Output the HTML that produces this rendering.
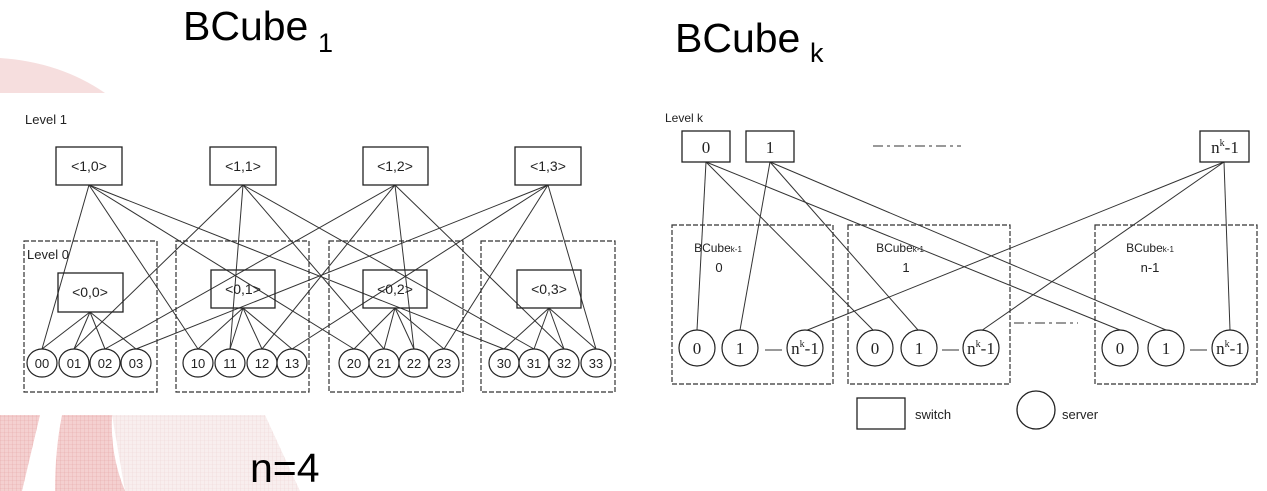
<!DOCTYPE html>
<html><head><meta charset="utf-8"><style>
html,body{margin:0;padding:0;background:#fff;}
svg{display:block;font-family:"Liberation Sans",Arial,sans-serif;}
</style></head><body>
<svg width="1267" height="491" viewBox="0 0 1267 491" xmlns="http://www.w3.org/2000/svg">
<defs>
<pattern id="g1" width="4" height="4" patternUnits="userSpaceOnUse"><rect width="4" height="4" fill="#f4d0d0"/><path d="M0 0H4M0 0V4" stroke="#e6a6a6" stroke-width="0.6"/></pattern>
<pattern id="g2" width="4" height="4" patternUnits="userSpaceOnUse"><rect width="4" height="4" fill="#f8eeee"/><path d="M0 0H4M0 0V4" stroke="#eed6d6" stroke-width="0.6"/></pattern>
</defs>
<!-- background decorations -->
<path d="M0,58 Q60,62 105,93 L0,93 Z" fill="#f6dede"/>
<path d="M0,415 L40,415 L22,491 L0,491 Z" fill="url(#g1)"/>
<path d="M112,415 L265,415 L300,491 L125,491 Z" fill="url(#g2)"/>
<path d="M62,415 L112,415 Q110,455 125,491 L55,491 Q55,450 62,415 Z" fill="url(#g1)"/>

<!-- titles -->
<text x="183" y="40" font-size="41" fill="#000">BCube</text>
<text x="318" y="52" font-size="27" fill="#000">1</text>
<text x="675" y="52" font-size="41" fill="#000">BCube</text>
<text x="810" y="62" font-size="27" fill="#000">k</text>
<text x="250" y="482" font-size="41" fill="#000">n=4</text>

<!-- LEFT DIAGRAM -->
<g stroke="#333" stroke-width="1" fill="none">
<!-- level1 switch to servers -->
<line x1="89" y1="185" x2="42" y2="349"/><line x1="89" y1="185" x2="198" y2="349"/><line x1="89" y1="185" x2="354" y2="349"/><line x1="89" y1="185" x2="504" y2="349"/>
<line x1="243" y1="185" x2="74" y2="349"/><line x1="243" y1="185" x2="230" y2="349"/><line x1="243" y1="185" x2="384" y2="349"/><line x1="243" y1="185" x2="534" y2="349"/>
<line x1="395" y1="185" x2="105" y2="349"/><line x1="395" y1="185" x2="262" y2="349"/><line x1="395" y1="185" x2="414" y2="349"/><line x1="395" y1="185" x2="564" y2="349"/>
<line x1="548" y1="185" x2="136" y2="349"/><line x1="548" y1="185" x2="292" y2="349"/><line x1="548" y1="185" x2="444" y2="349"/><line x1="548" y1="185" x2="596" y2="349"/>
<!-- level0 -->
<line x1="90" y1="312" x2="42" y2="349"/><line x1="90" y1="312" x2="74" y2="349"/><line x1="90" y1="312" x2="105" y2="349"/><line x1="90" y1="312" x2="136" y2="349"/>
<line x1="243" y1="308" x2="198" y2="349"/><line x1="243" y1="308" x2="230" y2="349"/><line x1="243" y1="308" x2="262" y2="349"/><line x1="243" y1="308" x2="292" y2="349"/>
<line x1="395" y1="308" x2="354" y2="349"/><line x1="395" y1="308" x2="384" y2="349"/><line x1="395" y1="308" x2="414" y2="349"/><line x1="395" y1="308" x2="444" y2="349"/>
<line x1="549" y1="308" x2="504" y2="349"/><line x1="549" y1="308" x2="534" y2="349"/><line x1="549" y1="308" x2="564" y2="349"/><line x1="549" y1="308" x2="596" y2="349"/>
</g>
<g stroke="#333" stroke-width="1.2" fill="none" stroke-dasharray="5,2">
<rect x="24" y="241" width="133" height="151"/>
<rect x="176" y="241" width="133" height="151"/>
<rect x="329" y="241" width="134" height="151"/>
<rect x="481" y="241" width="134" height="151"/>
</g>
<g stroke="#222" stroke-width="1.3" fill="none">
<rect x="56" y="147" width="66" height="38"/>
<rect x="210" y="147" width="66" height="38"/>
<rect x="363" y="147" width="65" height="38"/>
<rect x="515" y="147" width="66" height="38"/>
<rect x="58" y="273" width="65" height="39"/>
<rect x="211" y="270" width="64" height="38"/>
<rect x="363" y="270" width="64" height="38"/>
<rect x="517" y="270" width="64" height="38"/>
</g>
<g font-size="14" fill="#222" text-anchor="middle">
<text x="89" y="171">&lt;1,0&gt;</text><text x="243" y="171">&lt;1,1&gt;</text><text x="395" y="171">&lt;1,2&gt;</text><text x="548" y="171">&lt;1,3&gt;</text>
<text x="90" y="297">&lt;0,0&gt;</text><text x="243" y="294">&lt;0,1&gt;</text><text x="395" y="294">&lt;0,2&gt;</text><text x="549" y="294">&lt;0,3&gt;</text>
</g>
<g font-size="13" fill="#222">
<text x="25" y="124">Level 1</text>
<text x="27" y="259">Level 0</text>
</g>
<g stroke="#222" stroke-width="1.2" fill="#fff">
<ellipse cx="42" cy="363" rx="15" ry="14"/><ellipse cx="74" cy="363" rx="15" ry="14"/><ellipse cx="105" cy="363" rx="15" ry="14"/><ellipse cx="136" cy="363" rx="15" ry="14"/>
<ellipse cx="198" cy="363" rx="15" ry="14"/><ellipse cx="230" cy="363" rx="15" ry="14"/><ellipse cx="262" cy="363" rx="15" ry="14"/><ellipse cx="292" cy="363" rx="15" ry="14"/>
<ellipse cx="354" cy="363" rx="15" ry="14"/><ellipse cx="384" cy="363" rx="15" ry="14"/><ellipse cx="414" cy="363" rx="15" ry="14"/><ellipse cx="444" cy="363" rx="15" ry="14"/>
<ellipse cx="504" cy="363" rx="15" ry="14"/><ellipse cx="534" cy="363" rx="15" ry="14"/><ellipse cx="564" cy="363" rx="15" ry="14"/><ellipse cx="596" cy="363" rx="15" ry="14"/>
</g>
<g font-size="13" fill="#222" text-anchor="middle">
<text x="42" y="368">00</text><text x="74" y="368">01</text><text x="105" y="368">02</text><text x="136" y="368">03</text>
<text x="198" y="368">10</text><text x="230" y="368">11</text><text x="262" y="368">12</text><text x="292" y="368">13</text>
<text x="354" y="368">20</text><text x="384" y="368">21</text><text x="414" y="368">22</text><text x="444" y="368">23</text>
<text x="504" y="368">30</text><text x="534" y="368">31</text><text x="564" y="368">32</text><text x="596" y="368">33</text>
</g>

<!-- RIGHT DIAGRAM -->
<text x="665" y="122" font-size="12" fill="#222">Level k</text>
<g stroke="#333" stroke-width="1" fill="none">
<line x1="706" y1="162" x2="697" y2="330"/><line x1="706" y1="162" x2="873" y2="330"/><line x1="706" y1="162" x2="1120" y2="330"/>
<line x1="770" y1="162" x2="740" y2="330"/><line x1="770" y1="162" x2="918" y2="330"/><line x1="770" y1="162" x2="1166" y2="330"/>
<line x1="1224" y1="162" x2="805" y2="331"/><line x1="1224" y1="162" x2="981" y2="331"/><line x1="1224" y1="162" x2="1230" y2="330"/>
<line x1="873" y1="146" x2="961" y2="146" stroke-dasharray="10,4,3,4"/>
<line x1="1014" y1="323" x2="1078" y2="323" stroke-dasharray="10,4,3,4"/>
<line x1="765" y1="350" x2="782" y2="350"/><line x1="942" y1="350" x2="959" y2="350"/><line x1="1190" y1="350" x2="1207" y2="350"/>
</g>
<g stroke="#333" stroke-width="1.2" fill="none" stroke-dasharray="5,2">
<rect x="672" y="225" width="161" height="159"/>
<rect x="848" y="225" width="162" height="159"/>
<rect x="1095" y="225" width="162" height="159"/>
</g>
<g stroke="#222" stroke-width="1.3" fill="#fff">
<rect x="682" y="131" width="48" height="31"/>
<rect x="746" y="131" width="48" height="31"/>
<rect x="1200" y="131" width="49" height="31"/>
<rect x="857" y="398" width="48" height="31"/>
<ellipse cx="1036" cy="410" rx="19" ry="19"/>
</g>
<g font-family="Liberation Serif,serif" font-size="17" fill="#222" text-anchor="middle">
<text x="706" y="153">0</text><text x="770" y="153">1</text>
<text x="1225" y="153">n<tspan font-size="10" dy="-7">k</tspan><tspan dy="7">-1</tspan></text>
</g>
<g font-size="12" fill="#222" text-anchor="middle">
<text x="718" y="252">BCube<tspan font-size="8">k-1</tspan></text><text x="719" y="272" font-size="13">0</text>
<text x="900" y="252">BCube<tspan font-size="8">k-1</tspan></text><text x="906" y="272" font-size="13">1</text>
<text x="1150" y="252">BCube<tspan font-size="8">k-1</tspan></text><text x="1150" y="272" font-size="13">n-1</text>
</g>
<g stroke="#222" stroke-width="1.2" fill="#fff">
<ellipse cx="697" cy="348" rx="18" ry="18"/><ellipse cx="740" cy="348" rx="18" ry="18"/><ellipse cx="805" cy="348" rx="18" ry="18"/>
<ellipse cx="875" cy="348" rx="18" ry="18"/><ellipse cx="919" cy="348" rx="18" ry="18"/><ellipse cx="981" cy="348" rx="18" ry="18"/>
<ellipse cx="1120" cy="348" rx="18" ry="18"/><ellipse cx="1166" cy="348" rx="18" ry="18"/><ellipse cx="1230" cy="348" rx="18" ry="18"/>
</g>
<g font-family="Liberation Serif,serif" font-size="17" fill="#222" text-anchor="middle">
<text x="697" y="354">0</text><text x="740" y="354">1</text><text x="805" y="354">n<tspan font-size="10" dy="-7">k</tspan><tspan dy="7">-1</tspan></text>
<text x="875" y="354">0</text><text x="919" y="354">1</text><text x="981" y="354">n<tspan font-size="10" dy="-7">k</tspan><tspan dy="7">-1</tspan></text>
<text x="1120" y="354">0</text><text x="1166" y="354">1</text><text x="1230" y="354">n<tspan font-size="10" dy="-7">k</tspan><tspan dy="7">-1</tspan></text>
</g>
<g font-size="13" fill="#222">
<text x="915" y="419">switch</text>
<text x="1062" y="419">server</text>
</g>
</svg>
</body></html>
